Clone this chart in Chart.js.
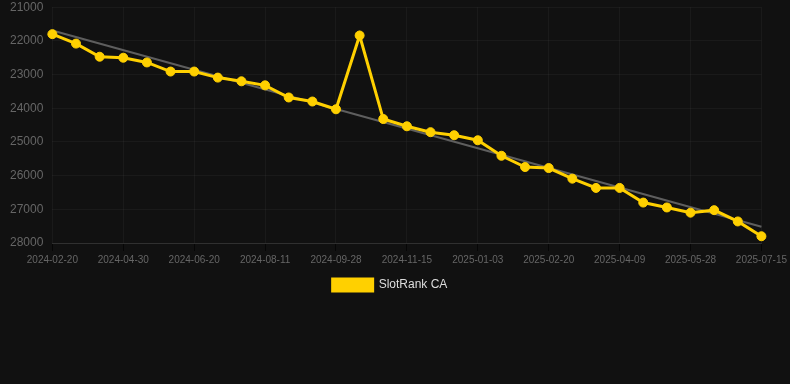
<!DOCTYPE html>
<html>
<head>
<meta charset="utf-8">
<script src="https://cdn.jsdelivr.net/npm/chart.js@4/dist/chart.umd.min.js"></script>
<style>
  html, body { margin: 0; padding: 0; background: #111111; }
  #wrap { width: 790px; height: 301px; position: relative; }
</style>
</head>
<body>
<div id="wrap"><canvas id="rankChart"></canvas></div>
<script>
"use strict"

// dates of each sample (only every third one is shown on the axis)
const labels = [
    '2024-02-20', '2024-03-07', '2024-04-14', '2024-04-30', '2024-05-17', '2024-06-03',
    '2024-06-20', '2024-07-07', '2024-07-25', '2024-08-11', '2024-08-27', '2024-09-12',
    '2024-09-28', '2024-10-14', '2024-10-30', '2024-11-15', '2024-12-01', '2024-12-18',
    '2025-01-03', '2025-01-19', '2025-02-04', '2025-02-20', '2025-03-08', '2025-03-24',
    '2025-04-09', '2025-04-25', '2025-05-12', '2025-05-28', '2025-06-13', '2025-06-29',
    '2025-07-15'
];

// rank values (lower is better, axis is reversed)
const rankValues = [
    21800, 22080, 22470, 22500, 22640, 22910, 22910, 23090, 23200, 23320,
    23680, 23800, 24030, 21840, 24320, 24535, 24710, 24800, 24950, 25410,
    25745, 25775, 26090, 26365, 26365, 26800, 26945, 27100, 27025, 27360,
    27800
];

// trend line, only both ends are known
const trendValues = labels.map(() => null);
trendValues[0] = 21690;
trendValues[labels.length - 1] = 27520;

const yTicks = [21000, 22000, 23000, 24000, 25000, 26000, 27000, 28000];

Chart.defaults.font.family = 'Arial, "Liberation Sans", sans-serif';

const ctx = document.getElementById('rankChart').getContext('2d');

new Chart(ctx, {
    type: 'line',
    data: {
        labels: labels,
        datasets: [{
            label: 'SlotRank CA',
            data: rankValues,
            borderColor: '#ffd000',
            backgroundColor: '#ffd000',
            borderWidth: 3,
            pointRadius: 4.5,
            pointBorderWidth: 1,
            pointBackgroundColor: '#ffd000',
            pointBorderColor: '#ffd000',
            tension: 0
        }, {
            label: 'trend',
            data: trendValues,
            borderColor: '#5e5e5e',
            borderWidth: 2,
            pointRadius: 0,
            spanGaps: true,
            tension: 0
        }]
    },
    options: {
        responsive: true,
        maintainAspectRatio: false,
        animation: false,
        layout: {
            padding: { left: 10, right: 20, top: -1, bottom: 0 }
        },
        plugins: {
            tooltip: { enabled: false },
            legend: {
                position: 'bottom',
                labels: {
                    color: '#dddddd',
                    boxWidth: 40,
                    font: { size: 12 },
                    filter: item => item.datasetIndex === 0
                }
            }
        },
        scales: {
            x: {
                offset: false,
                grid: {
                    color: c => (c.index % 3 === 0 ? 'rgba(255,255,255,0.04)' : 'rgba(0,0,0,0)'),
                    tickColor: c => (c.index % 3 === 0 ? 'rgba(0,0,0,0.6)' : 'rgba(0,0,0,0)')
                },
                border: { color: 'rgba(255,255,255,0.1)' },
                ticks: {
                    color: '#666666',
                    font: { size: 10 },
                    maxRotation: 0,
                    autoSkip: false,
                    callback: function (value, index) {
                        return index % 3 === 0 ? this.getLabelForValue(value) : '';
                    }
                }
            },
            y: {
                reverse: true,
                min: 21000,
                max: 28000,
                afterBuildTicks: axis => {
                    axis.ticks = yTicks.map(v => ({ value: v }));
                },
                grid: {
                    color: 'rgba(255,255,255,0.04)',
                    tickLength: 9,
                    tickColor: 'rgba(0,0,0,0)'
                },
                border: { display: false },
                ticks: {
                    color: '#666666',
                    font: { size: 12 },
                    padding: 0,
                    callback: value => String(value)
                }
            }
        }
    }
});
</script>
</body>
</html>
